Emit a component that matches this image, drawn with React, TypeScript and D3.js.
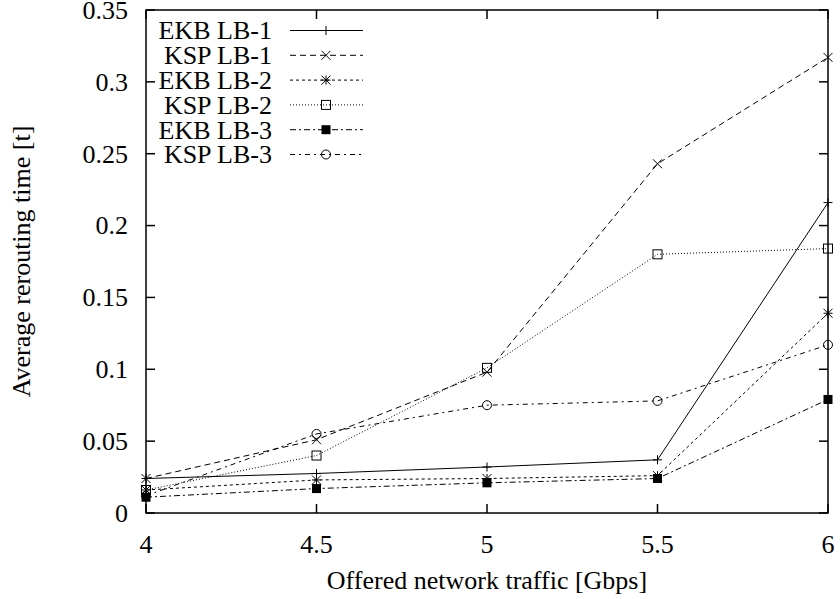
import React from "react";
import * as d3 from "d3";

const xValues = [4, 4.5, 5, 5.5, 6];
const seriesNames = ["EKB LB-1", "KSP LB-1", "EKB LB-2", "KSP LB-2", "EKB LB-3", "KSP LB-3"];
const ekbLb1 = [0.024, 0.0275, 0.032, 0.037, 0.216];
const kspLb1 = [0.024, 0.051, 0.098, 0.243, 0.317];
const ekbLb2 = [0.016, 0.023, 0.024, 0.026, 0.139];
const kspLb2 = [0.016, 0.040, 0.101, 0.180, 0.184];
const ekbLb3 = [0.011, 0.017, 0.021, 0.024, 0.079];
const kspLb3 = [0.012, 0.055, 0.075, 0.078, 0.117];
const xTicks = [4, 4.5, 5, 5.5, 6];
const yTicks = [0, 0.05, 0.1, 0.15, 0.2, 0.25, 0.3, 0.35];

const seriesValues = [ekbLb1, kspLb1, ekbLb2, kspLb2, ekbLb3, kspLb3];
const dashes = ["none", "6,4", "3,3", "1,2", "6,3,2,3", "5,4,2,4"];
const markers = ["plus", "cross", "star", "square", "fsquare", "circle"];

const M = { left: 146, right: 828, top: 10, bottom: 513 };
const FONT = '"Liberation Serif", "Times New Roman", serif';
const TS: React.CSSProperties = { fontFamily: FONT, fontSize: 26 };

function Marker({ type, x, y }: { type: string; x: number; y: number }) {
  const s = 4.5;
  const st = { stroke: "#000", strokeWidth: 1, fill: "none" };
  if (type === "plus")
    return <path d={`M${x - s},${y}H${x + s}M${x},${y - s}V${y + s}`} {...st} />;
  if (type === "cross")
    return <path d={`M${x - s},${y - s}L${x + s},${y + s}M${x - s},${y + s}L${x + s},${y - s}`} {...st} />;
  if (type === "star")
    return (
      <path
        d={`M${x - s},${y}H${x + s}M${x},${y - s}V${y + s}M${x - s},${y - s}L${x + s},${y + s}M${x - s},${y + s}L${x + s},${y - s}`}
        {...st}
      />
    );
  if (type === "square") return <rect x={x - s} y={y - s} width={2 * s} height={2 * s} {...st} />;
  if (type === "fsquare") return <rect x={x - s} y={y - s} width={2 * s} height={2 * s} fill="#000" />;
  return <circle cx={x} cy={y} r={s} {...st} />;
}

export default function App() {
  const x = d3.scaleLinear().domain([4, 6]).range([M.left, M.right]);
  const y = d3.scaleLinear().domain([0, 0.35]).range([M.bottom, M.top]);
  const line = d3
    .line<number>()
    .x((_, i) => x(xValues[i]))
    .y((d) => y(d));
  const fmt = (v: number) => String(+v.toFixed(2));
  const tl = 9;
  return (
    <svg width={840} height={599} style={{ position: "absolute", left: 0, top: 0, background: "#fff" }}>
      <rect x={0} y={0} width={840} height={599} fill="#fff" />
      {yTicks.map((t) => (
        <g key={"y" + t}>
          <line x1={M.left} x2={M.left + tl} y1={y(t)} y2={y(t)} stroke="#000" strokeWidth={1.5} />
          <line x1={M.right} x2={M.right - tl} y1={y(t)} y2={y(t)} stroke="#000" strokeWidth={1.5} />
          <text x={128} y={y(t)} dy="0.34em" textAnchor="end" style={TS}>
            {fmt(t)}
          </text>
        </g>
      ))}
      {xTicks.map((t) => (
        <g key={"x" + t}>
          <line x1={x(t)} x2={x(t)} y1={M.bottom} y2={M.bottom - tl} stroke="#000" strokeWidth={1.5} />
          <line x1={x(t)} x2={x(t)} y1={M.top} y2={M.top + tl} stroke="#000" strokeWidth={1.5} />
          <text x={x(t)} y={553} textAnchor="middle" style={TS}>
            {fmt(t)}
          </text>
        </g>
      ))}
      <rect x={M.left} y={M.top} width={M.right - M.left} height={M.bottom - M.top} fill="none" stroke="#000" strokeWidth={1.5} />
      <text x={487} y={589} textAnchor="middle" style={TS}>
        Offered network traffic [Gbps]
      </text>
      <text transform={`translate(30,${(M.top + M.bottom) / 2}) rotate(-90)`} textAnchor="middle" style={TS}>
        Average rerouting time [t]
      </text>
      {seriesValues.map((vals, si) => (
        <g key={si}>
          <path d={line(vals) || ""} fill="none" stroke="#000" strokeWidth={1} strokeDasharray={dashes[si]} />
          {vals.map((v, i) => (
            <Marker key={i} type={markers[si]} x={x(xValues[i])} y={y(v)} />
          ))}
        </g>
      ))}
      {seriesNames.map((n, i) => {
        const ly = 30.5 + i * 24.8;
        return (
          <g key={n}>
            <text x={272} y={ly} dy="0.34em" textAnchor="end" style={TS}>
              {n}
            </text>
            <line x1={290} x2={363} y1={ly} y2={ly} stroke="#000" strokeWidth={1} strokeDasharray={dashes[i]} />
            <Marker type={markers[i]} x={326} y={ly} />
          </g>
        );
      })}
    </svg>
  );
}
